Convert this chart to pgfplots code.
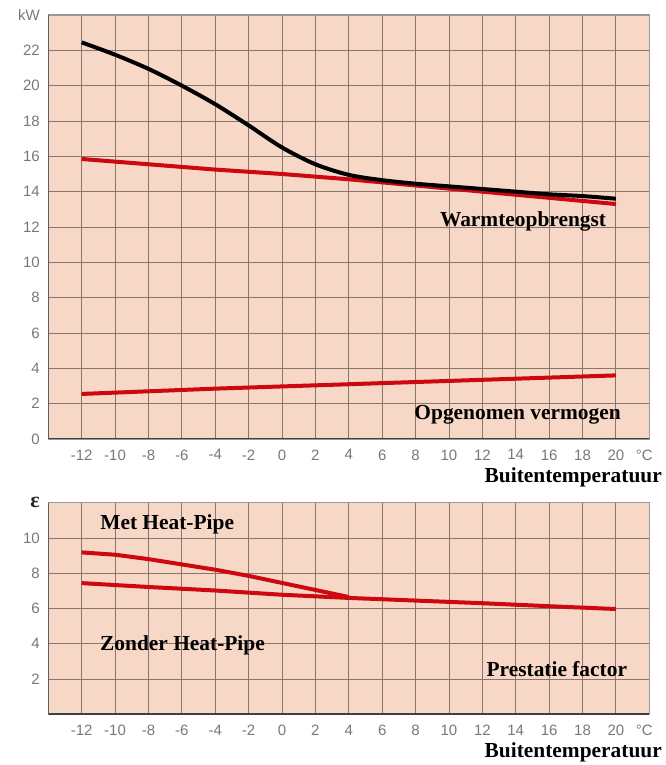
\documentclass[border=0pt]{standalone}
\usepackage{fontspec}
\setmainfont{Liberation Serif}
\setsansfont{Liberation Sans}
\usepackage{pgfplots}
\pgfplotsset{compat=1.18}
\definecolor{peach}{RGB}{247,215,197}
\definecolor{gridc}{RGB}{138,116,110}
\definecolor{cred}{RGB}{205,8,16}
\definecolor{tickc}{RGB}{120,120,120}
\pgfplotsset{
 mystyle/.style={
  scale only axis, width=601pt,
  xmin=-14, xmax=22,
  xtick={-12,-10,...,20},
  grid=major,
  major grid style={draw=gridc, line width=0.9pt},
  major tick length=0pt,
  axis background/.style={fill=peach},
  axis line style={draw=gray!80, line width=1.2pt},
  ticklabel style={font=\sffamily\fontsize{15}{15}\selectfont, text=tickc},
  /pgf/number format/assume math mode=true,
  xticklabel style={yshift=-7pt},
  yticklabel style={xshift=-5pt},
  extra x ticks={21.7},
  extra x tick labels={°C},
  extra x tick style={grid=none},
  every axis plot/.append style={line width=4pt},
 }
}
\newcommand{\lbl}{\rmfamily\bfseries\fontsize{21.4}{22}\selectfont}
\begin{document}
\begin{tikzpicture}
\useasboundingbox (0,0) rectangle (665pt,765pt);
% top panel
\begin{axis}[mystyle, at={(48.3pt,326pt)}, anchor=south west, height=424pt,
  ymin=0, ymax=24, ytick={0,2,...,24},
  yticklabels={0,2,4,6,8,10,12,14,16,18,20,22,kW}]
\addplot[cred] coordinates {(-12,15.85) (-8,15.55) (-4,15.25) (0,15.0) (4,14.7) (8,14.35) (12,14.0) (16,13.65) (20,13.3)};
\addplot[black, smooth] coordinates {(-12,22.45) (-10,21.75) (-8,20.95) (-6,20.0) (-4,18.95) (-2,17.75) (0,16.5) (2,15.55) (4,14.95) (6,14.65) (8,14.45) (10,14.3) (12,14.15) (14,14.0) (16,13.85) (18,13.75) (20,13.6)};
\addplot[cred] coordinates {(-12,2.55) (-4,2.85) (4,3.1) (12,3.35) (20,3.6)};
\draw[black!75, line width=2pt] (rel axis cs:0,1) -- (rel axis cs:0,0) -- (rel axis cs:1,0);
\node[font=\lbl] at (axis cs:14.44,12.3) {Warmteopbrengst};
\node[font=\lbl] at (axis cs:14.11,1.36) {Opgenomen vermogen};
\end{axis}
% bottom panel
\begin{axis}[mystyle, at={(48.3pt,50.7pt)}, anchor=south west, height=211.6pt,
  ymin=0, ymax=12, ytick={0,2,...,12},
  yticklabels={,2,4,6,8,10,{\color{black!85}\rmfamily\bfseries\fontsize{22}{22}\selectfont ε}}]
\addplot[cred] coordinates {(-12,9.18) (-10,9.05) (-8,8.8) (-6,8.5) (-4,8.2) (-2,7.85) (0,7.45) (2,7.05) (4,6.65)};
\addplot[cred] coordinates {(-12,7.44) (-8,7.22) (-4,7.02) (0,6.78) (4,6.6) (8,6.45) (12,6.3) (16,6.13) (20,5.97)};
\draw[black!75, line width=2pt] (rel axis cs:0,1) -- (rel axis cs:0,0) -- (rel axis cs:1,0);
\node[font=\lbl] at (axis cs:-6.88,10.76) {Met Heat-Pipe};
\node[font=\lbl] at (axis cs:-5.96,3.9) {Zonder Heat-Pipe};
\node[font=\lbl] at (axis cs:16.46,2.56) {Prestatie factor};
\end{axis}
\node[font=\lbl, anchor=east, inner sep=0pt] at (662pt,288pt) {Buitentemperatuur};
\node[font=\lbl, anchor=east, inner sep=0pt] at (662pt,13pt) {Buitentemperatuur};
\end{tikzpicture}
\end{document}
